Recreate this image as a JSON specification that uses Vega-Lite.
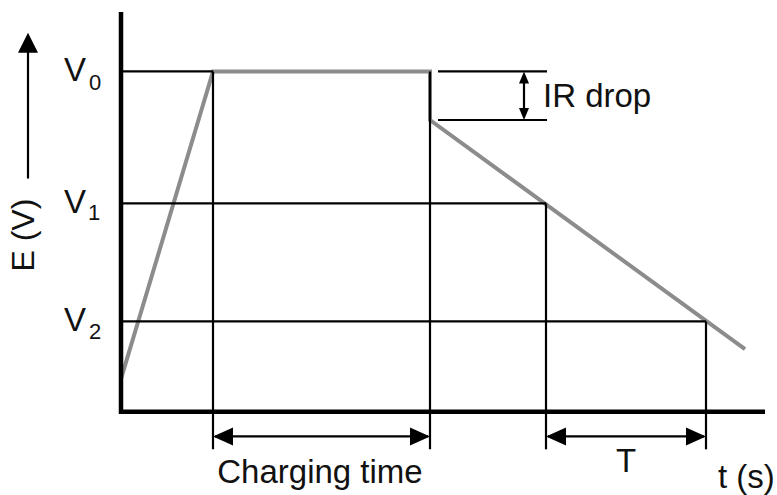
{
  "$schema": "https://vega.github.io/schema/vega-lite/v6.json",
  "width": 777,
  "height": 495,
  "autosize": {"type": "fit", "contains": "padding"},
  "padding": 0,
  "background": "white",
  "config": {"view": {"stroke": null}, "text": {"font": "Liberation Sans", "color": "#111111"}},
  "datasets": {
    "segments": [
      {"kind": "guide", "t": 0, "E": 343, "t2": 92, "E2": 343},
      {"kind": "guide", "t": 0, "E": 210, "t2": 425, "E2": 210},
      {"kind": "guide", "t": 0, "E": 91, "t2": 585, "E2": 91},
      {"kind": "guide", "t": 92, "E": 343, "t2": 92, "E2": -38},
      {"kind": "guide", "t": 309, "E": 343, "t2": 309, "E2": -38},
      {"kind": "guide", "t": 425, "E": 210, "t2": 425, "E2": -38},
      {"kind": "guide", "t": 585, "E": 91, "t2": 585, "E2": -38},
      {"kind": "guide", "t": 317, "E": 343, "t2": 426, "E2": 343},
      {"kind": "guide", "t": 317, "E": 294, "t2": 426, "E2": 294},
      {"kind": "guide", "t": 403, "E": 338, "t2": 403, "E2": 299},
      {"kind": "guide", "t": 94, "E": -25, "t2": 307, "E2": -25},
      {"kind": "guide", "t": 427, "E": -25, "t2": 583, "E2": -25},
      {"kind": "guide", "t": -93, "E": 235, "t2": -93, "E2": 375},
      {"kind": "axis", "t": 0, "E": -2, "t2": 0, "E2": 403},
      {"kind": "axis", "t": -2, "E": 0, "t2": 644, "E2": 0}
    ],
    "curve": [
      {"i": 1, "t": 0, "E": 33},
      {"i": 2, "t": 92, "E": 343},
      {"i": 3, "t": 309, "E": 343},
      {"i": 4, "t": 309, "E": 294},
      {"i": 5, "t": 624, "E": 63}
    ],
    "heads": [
      {"grp": "big", "dir": "left", "t": 92, "E": -25},
      {"grp": "big", "dir": "right", "t": 309, "E": -25},
      {"grp": "big", "dir": "left", "t": 425, "E": -25},
      {"grp": "big", "dir": "right", "t": 585, "E": -25},
      {"grp": "big", "dir": "up", "t": -93, "E": 382},
      {"grp": "small", "dir": "up_s", "t": 403, "E": 343},
      {"grp": "small", "dir": "down_s", "t": 403, "E": 294}
    ],
    "labels": [
      {"role": "center", "text": "V", "t": -46, "E": 343},
      {"role": "center", "text": "V", "t": -46, "E": 210},
      {"role": "center", "text": "V", "t": -46, "E": 91},
      {"role": "center", "text": "Charging time", "t": 199, "E": -62},
      {"role": "center", "text": "T", "t": 505, "E": -51},
      {"role": "left", "text": "IR drop", "t": 422, "E": 317},
      {"role": "left", "text": "t (s)", "t": 597, "E": -67},
      {"role": "sub", "text": "0", "t": -26, "E": 331},
      {"role": "sub", "text": "1", "t": -27, "E": 200},
      {"role": "sub", "text": "2", "t": -26, "E": 80},
      {"role": "rot", "text": "E (V)", "t": -97, "E": 178}
    ]
  },
  "encoding": {
    "x": {"field": "t", "type": "quantitative", "scale": {"domain": [-121, 656], "nice": false, "zero": false}, "axis": null},
    "y": {"field": "E", "type": "quantitative", "scale": {"domain": [-80, 415], "nice": false, "zero": false}, "axis": null}
  },
  "layer": [
    {
      "data": {"name": "curve"},
      "mark": {"type": "line", "color": "#8c8c8c", "strokeWidth": 4, "strokeJoin": "miter", "strokeCap": "butt"},
      "encoding": {"order": {"field": "i", "type": "quantitative"}}
    },
    {
      "data": {"name": "segments"},
      "transform": [{"filter": "datum.kind === 'guide'"}],
      "mark": {"type": "rule", "color": "#000000", "strokeWidth": 2.2},
      "encoding": {"x2": {"field": "t2"}, "y2": {"field": "E2"}}
    },
    {
      "data": {"name": "segments"},
      "transform": [{"filter": "datum.kind === 'axis'"}],
      "mark": {"type": "rule", "color": "#000000", "strokeWidth": 4.5},
      "encoding": {"x2": {"field": "t2"}, "y2": {"field": "E2"}}
    },
    {
      "data": {"name": "heads"},
      "transform": [{"filter": "datum.grp === 'big'"}],
      "mark": {"type": "point", "filled": true, "opacity": 1, "color": "#000000", "size": 400, "strokeWidth": 0},
      "encoding": {
        "shape": {"field": "dir", "type": "nominal", "legend": null,
          "scale": {"domain": ["left", "right", "up", "up_s", "down_s"],
                    "range": ["M0,0L2,-0.9L2,0.9Z", "M0,0L-2,-0.9L-2,0.9Z", "M0,0L-1,2L1,2Z", "M0,0L-1,2.4L1,2.4Z", "M0,0L-1,-2.4L1,-2.4Z"]}}
      }
    },
    {
      "data": {"name": "heads"},
      "transform": [{"filter": "datum.grp === 'small'"}],
      "mark": {"type": "point", "filled": true, "opacity": 1, "color": "#000000", "size": 100, "strokeWidth": 0},
      "encoding": {
        "shape": {"field": "dir", "type": "nominal", "legend": null}
      }
    },
    {
      "data": {"name": "labels"},
      "transform": [{"filter": "datum.role === 'center'"}],
      "mark": {"type": "text", "fontSize": 33, "align": "center", "baseline": "middle"},
      "encoding": {"text": {"field": "text"}}
    },
    {
      "data": {"name": "labels"},
      "transform": [{"filter": "datum.role === 'left'"}],
      "mark": {"type": "text", "fontSize": 33, "align": "left", "baseline": "middle"},
      "encoding": {"text": {"field": "text"}}
    },
    {
      "data": {"name": "labels"},
      "transform": [{"filter": "datum.role === 'sub'"}],
      "mark": {"type": "text", "fontSize": 22, "align": "center", "baseline": "middle"},
      "encoding": {"text": {"field": "text"}}
    },
    {
      "data": {"name": "labels"},
      "transform": [{"filter": "datum.role === 'rot'"}],
      "mark": {"type": "text", "fontSize": 32, "align": "center", "baseline": "middle", "angle": 270},
      "encoding": {"text": {"field": "text"}}
    }
  ]
}
